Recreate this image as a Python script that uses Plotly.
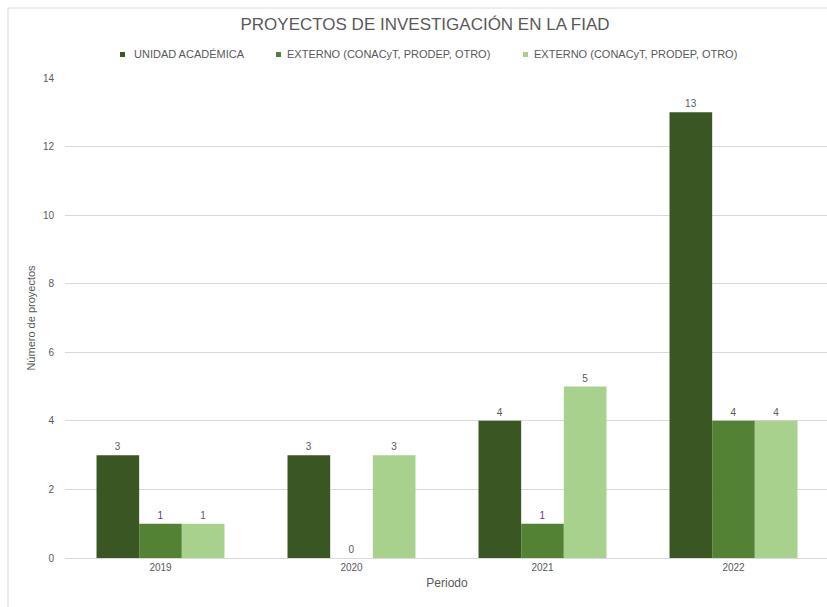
import plotly.graph_objects as go

categories = ["2019", "2020", "2021", "2022"]
series_names = ["UNIDAD ACADÉMICA", "EXTERNO (CONACyT, PRODEP, OTRO)", "EXTERNO (CONACyT, PRODEP, OTRO)"]
unidad = [3, 3, 4, 13]
externo_a = [1, 0, 1, 4]
externo_b = [1, 3, 5, 4]
y_ticks = [0, 2, 4, 6, 8, 10, 12, 14]

colors = ["#3a5623", "#548235", "#a9d18e"]
label_colors = [
    ["#595959"] * 4,
    ["#7030a0", "#595959", "#7030a0", "#595959"],
    ["#595959"] * 4,
]

W, H = 829, 607
ML, MR, MT, MB = 65, 0, 78, 49
PW, PH = W - ML - MR, H - MT - MB

def px_x(x):
    return (x - ML) / PW

def px_y(y):
    return (H - MB - y) / PH

fig = go.Figure()
for name, vals, c, lc in zip(series_names, [unidad, externo_a, externo_b], colors, label_colors):
    fig.add_trace(go.Bar(
        x=categories, y=vals, name=name, marker=dict(color=c, line=dict(width=0)),
        text=[str(v) for v in vals], textposition="outside", cliponaxis=False,
        textfont=dict(size=10, color=lc, family="Liberation Sans"),
        showlegend=False,
    ))

# manual legend
legend_x = [120, 276, 523]
for name, c, lx in zip(series_names, colors, legend_x):
    fig.add_shape(type="rect", xref="paper", yref="paper",
                  x0=px_x(lx), x1=px_x(lx + 5), y0=px_y(57), y1=px_y(52),
                  fillcolor=c, line=dict(width=0))
    fig.add_annotation(text=name, xref="paper", yref="paper", x=px_x(lx + 9 if lx != 120 else lx + 12),
                       y=px_y(54.5), xanchor="left", yanchor="middle", showarrow=False,
                       font=dict(size=11, color="#595959", family="Liberation Sans"))

# outer chart border
fig.add_shape(type="rect", xref="paper", yref="paper",
              x0=px_x(8), x1=px_x(900), y0=px_y(700), y1=px_y(8),
              line=dict(color="#d9d9d9", width=1), fillcolor="rgba(0,0,0,0)", layer="below")

fig.update_layout(
    width=W, height=H,
    margin=dict(l=ML, r=MR, t=MT, b=MB),
    paper_bgcolor="white", plot_bgcolor="white",
    barmode="group", bargap=0.33, bargroupgap=0,
    title=dict(text="PROYECTOS DE INVESTIGACIÓN EN LA FIAD", x=px_x(425), xref="paper",
               xanchor="center", y=1 - 24 / H, yanchor="middle",
               font=dict(size=17, color="#595959", family="Liberation Sans")),
    font=dict(family="Liberation Sans", color="#595959"),
    xaxis=dict(title=dict(text="Periodo", font=dict(size=12, color="#595959"), standoff=6),
               tickfont=dict(size=10, color="#595959"), showline=True, linecolor="#d9d9d9",
               linewidth=1, showgrid=False, ticks=""),
    yaxis=dict(title=dict(text="Número de proyectos", font=dict(size=11, color="#595959"), standoff=5),
               range=[0, 14], tickvals=y_ticks, tickfont=dict(size=10, color="#595959"),
               showgrid=True, gridcolor="#d9d9d9", gridwidth=1, zeroline=False,
               ticklabelstandoff=10),
)

fig.write_html("out.html", config={"displayModeBar": False},
               post_script="document.body.style.margin='0';document.body.style.overflow='hidden';")
